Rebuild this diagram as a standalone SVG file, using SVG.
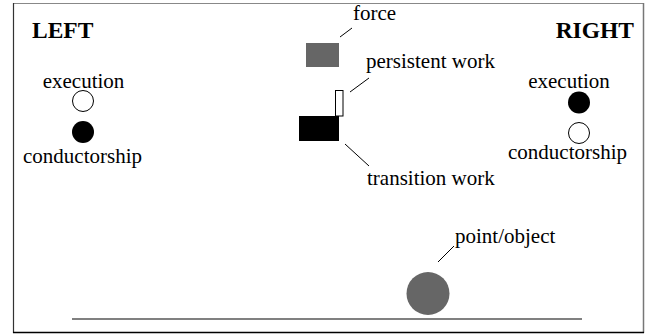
<svg xmlns="http://www.w3.org/2000/svg" width="659" height="334" viewBox="0 0 659 334">
<style>
text{font-family:"Liberation Serif","Times New Roman",serif;font-size:21px;fill:#000}
.h{font-weight:bold;font-size:23.5px}
.m{text-anchor:middle}
.lead{stroke:#000;stroke-width:1;fill:none}
.open{fill:#fff;stroke:#000;stroke-width:1}
.full{fill:#000}
</style>
<rect width="659" height="334" fill="#fff"/>
<g id="frame">
<line x1="13" y1="3.5" x2="644" y2="3.5" stroke="#888" stroke-width="1.2"/>
<line x1="13.5" y1="3" x2="13.5" y2="333" stroke="#333" stroke-width="1.2"/>
<line x1="643.5" y1="3" x2="643.5" y2="333" stroke="#777" stroke-width="1.5"/>
<line x1="13" y1="332.5" x2="644" y2="332.5" stroke="#000" stroke-width="1.5"/>
</g>
<g id="left">
<text class="h" x="32" y="38">LEFT</text>
<text class="m" x="83.5" y="88">execution</text>
<circle class="open" cx="83" cy="101" r="10.5"/>
<circle class="full" cx="83" cy="132" r="11"/>
<text class="m" x="82.5" y="163">conductorship</text>
</g>
<g id="right">
<text class="h" x="634" y="38" text-anchor="end">RIGHT</text>
<text class="m" x="569" y="88">execution</text>
<circle class="full" cx="579" cy="102.5" r="11"/>
<circle class="open" cx="579" cy="133" r="10.5"/>
<text class="m" x="567.5" y="159">conductorship</text>
</g>
<g id="force">
<rect x="306" y="43" width="33" height="24" fill="#666"/>
<text x="353" y="20">force</text>
</g>
<g id="persistent-work">
<rect x="335.5" y="90.5" width="7.5" height="25.5" fill="#fff" stroke="#000" stroke-width="1"/>
<text x="366" y="68">persistent work</text>
</g>
<g id="transition-work">
<rect x="299" y="116" width="40" height="25" fill="#000"/>
<text x="367" y="185">transition work</text>
</g>
<g id="point-object">
<line x1="72" y1="319" x2="582" y2="319" stroke="#808080" stroke-width="2"/>
<circle cx="428" cy="293.5" r="21.5" fill="#666"/>
<text x="455" y="243">point/object</text>
</g>
<g id="connectors">
<line class="lead" x1="340" y1="37" x2="352" y2="28"/>
<line class="lead" x1="350" y1="92" x2="369" y2="78"/>
<line class="lead" x1="345" y1="144" x2="369" y2="166"/>
<line class="lead" x1="438" y1="262" x2="454" y2="246"/>
</g>
</svg>
